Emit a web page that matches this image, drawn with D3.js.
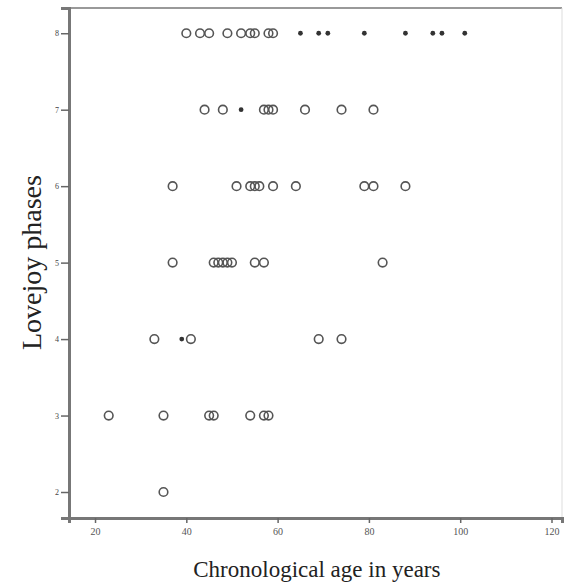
<!DOCTYPE html>
<html>
<head>
<meta charset="utf-8">
<script src="https://cdn.jsdelivr.net/npm/d3@7"></script>
<style>
  body { margin: 0; background: #fff; }
  text { font-family: "Liberation Serif", "DejaVu Serif", serif; }
</style>
</head>
<body>
<div id="chart"></div>
<script>
// ages (years) for each Lovejoy phase, open circles
const phase8 = [40, 43, 45, 49, 52, 54, 55, 58, 59];
const phase7 = [44, 48, 57, 58, 59, 66, 74, 81];
const phase6 = [37, 51, 54, 55, 56, 59, 64, 79, 81, 88];
const phase5 = [37, 46, 47, 48, 49, 50, 55, 57, 83];
const phase4 = [33, 41, 69, 74];
const phase3 = [23, 35, 45, 46, 54, 57, 58];
const phase2 = [35];

// filled (asterisk) markers
const phase8Filled = [65, 69, 71, 79, 88, 94, 96, 101];
const phase7Filled = [52];
const phase4Filled = [39];

const xTicks = [20, 40, 60, 80, 100, 120];
const yTicks = [2, 3, 4, 5, 6, 7, 8];

const openPoints = [
  ...phase8.map((a) => ({ age: a, phase: 8 })),
  ...phase7.map((a) => ({ age: a, phase: 7 })),
  ...phase6.map((a) => ({ age: a, phase: 6 })),
  ...phase5.map((a) => ({ age: a, phase: 5 })),
  ...phase4.map((a) => ({ age: a, phase: 4 })),
  ...phase3.map((a) => ({ age: a, phase: 3 })),
  ...phase2.map((a) => ({ age: a, phase: 2 }))
];
const filledPoints = [
  ...phase8Filled.map((a) => ({ age: a, phase: 8 })),
  ...phase7Filled.map((a) => ({ age: a, phase: 7 })),
  ...phase4Filled.map((a) => ({ age: a, phase: 4 }))
];

const width = 564;
const height = 583;
const margin = { top: 8, right: 2, bottom: 65, left: 69 };
const chartWidth = width - margin.left - margin.right;
const chartHeight = height - margin.top - margin.bottom;

const svg = d3.select('#chart').append('svg').attr('width', width).attr('height', height);

const x = d3.scaleLinear().domain([14.3, 122.3]).range([0, chartWidth]);
const y = d3.scaleLinear().domain([1.66, 8.33]).range([chartHeight, 0]);

const chart = svg.append('g').attr('transform', `translate(${margin.left}, ${margin.top})`);

// frame: light top/right
chart.append('line').attr('x1', 0).attr('x2', chartWidth).attr('y1', 0).attr('y2', 0)
  .attr('stroke', '#999').attr('stroke-width', 2);
chart.append('line').attr('x1', chartWidth).attr('x2', chartWidth).attr('y1', 0).attr('y2', chartHeight)
  .attr('stroke', '#ddd').attr('stroke-width', 1);

const xAxis = chart
  .append('g')
  .attr('transform', `translate(0, ${chartHeight})`)
  .call(d3.axisBottom(x).tickValues(xTicks).tickSize(5).tickPadding(5));
xAxis.select('.domain').attr('stroke', '#777').attr('stroke-width', 3);
xAxis.selectAll('.tick line').attr('stroke', '#666').attr('stroke-width', 1.5);
xAxis.selectAll('text').attr('fill', '#555').style('font-size', '10px');

const yAxis = chart
  .append('g')
  .call(d3.axisLeft(y).tickValues(yTicks).tickFormat(d3.format('d')).tickSize(8).tickPadding(2));
yAxis.select('.domain').attr('stroke', '#777').attr('stroke-width', 3);
yAxis.selectAll('.tick line').attr('stroke', '#666').attr('stroke-width', 1.5);
yAxis.selectAll('text').attr('fill', '#444').style('font-size', '8px');

chart
  .selectAll('.open')
  .data(openPoints)
  .enter()
  .append('circle')
  .attr('class', 'open')
  .attr('cx', (d) => x(d.age))
  .attr('cy', (d) => y(d.phase))
  .attr('r', 4.3)
  .attr('fill', 'none')
  .attr('stroke', '#555')
  .attr('stroke-width', 1.6);

chart
  .selectAll('.filled')
  .data(filledPoints)
  .enter()
  .append('path')
  .attr('class', 'filled')
  .attr('transform', (d) => `translate(${x(d.age)}, ${y(d.phase)})`)
  .attr('d', d3.symbol(d3.symbolCircle, 18))
  .attr('fill', '#333');

svg
  .append('text')
  .attr('x', margin.left + x(68.6))
  .attr('y', 577)
  .attr('text-anchor', 'middle')
  .attr('fill', '#222')
  .style('font-size', '23px')
  .text('Chronological age in years');

svg
  .append('text')
  .attr('transform', `translate(41, ${margin.top + y(5)}) rotate(-90)`)
  .attr('text-anchor', 'middle')
  .attr('fill', '#222')
  .style('font-size', '28px')
  .text('Lovejoy phases');
</script>
</body>
</html>
